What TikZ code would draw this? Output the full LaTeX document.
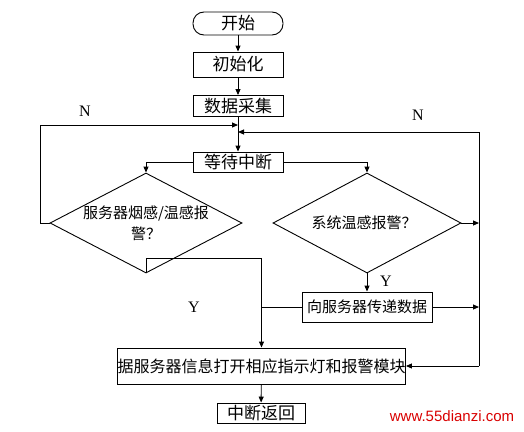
\documentclass[tikz,border=0pt]{standalone}
\usepackage{fontspec}
\setmainfont{Liberation Serif}
\newfontfamily\cjk{Noto Sans CJK SC}
\newfontfamily\wmfont{Liberation Sans}
\usetikzlibrary{shapes.geometric,arrows.meta}
\begin{document}
\begin{tikzpicture}[x=1pt,y=-1pt,
  box/.style={draw,line width=0.9pt,inner sep=0pt,font=\cjk\fontsize{17}{20}\selectfont},
  dia/.style={draw,diamond,line width=0.9pt,inner sep=0pt},
  ln/.style={line width=0.9pt},
  arr/.style={line width=0.9pt,-{Triangle[length=6pt,width=5pt]}},
  lab/.style={font=\fontsize{16}{18}\selectfont}]
\useasboundingbox (0,0) rectangle (524,431);
\node[box,rounded corners=11pt,minimum width=90pt,minimum height=23pt] (start) at (238,23.5) {开始};
\node[box,minimum width=90pt,minimum height=25pt] (init) at (238,64.5) {初始化};
\node[box,minimum width=90pt,minimum height=21pt] (collect) at (238,106) {数据采集};
\node[box,minimum width=90pt,minimum height=20pt] (wait) at (238,162) {等待中断};
\node[dia,minimum width=192pt,minimum height=100pt] (d1) at (146,223) {};
\node[font=\cjk\fontsize{15}{21}\selectfont,align=center] (d1t) at (146,223) {服务器烟感/温感报\\警？};
\node[dia,minimum width=188pt,minimum height=100pt] (d2) at (367,223) {};
\node[font=\cjk\fontsize{15}{18}\selectfont] (d2t) at (364,223) {系统温感报警？};
\node[box,font=\cjk\fontsize{15}{18}\selectfont,minimum width=130pt,minimum height=30pt] (send) at (367,307) {向服务器传递数据};
\node[box,font=\cjk\fontsize{16}{18}\selectfont,minimum width=279pt,minimum height=36pt] (final) at (261.5,366) {据服务器信息打开相应指示灯和报警模块};
\node[box,minimum width=88pt,minimum height=20pt] (ret) at (261,413) {中断返回};
\coordinate (j1) at (238,125);
\coordinate (j2) at (238,132);
\coordinate (lx) at (40,223);
\coordinate (rt) at (479,132);
\coordinate (rm) at (479,223);
\coordinate (rs) at (479,307);
\coordinate (rb) at (479,366);
\coordinate (ym) at (262,307);
\draw[arr] (start) -- (init);
\draw[arr] (init) -- (collect);
\draw[arr] (collect) -- (wait);
\draw[arr] (d1.west) -- (lx) |- (j1);
\draw[arr] (rt) -- (j2);
\draw[ln] (rt) -- (rb);
\draw[arr] (d2.east) -- (rm);
\draw[arr] (send.east) -- (rs);
\draw[arr] (rb) -- (final.east);
\draw[arr] (wait.west) -| (d1.north);
\draw[arr] (wait.east) -| (d2.north);
\draw[arr] (d2.south) -- (send.north);
\draw[arr] (d1.south) |- ([yshift=15pt]d1.south -| final.north) -- (final.north);
\draw[ln] (send.west) -- (ym);
\draw[arr] (final) -- (ret);
\node[lab] (n1) at (85,111) {N};
\node[lab] (n2) at (418,115) {N};
\node[lab] (y1) at (386,281) {Y};
\node[lab] (y2) at (194,307) {Y};
\node[font=\wmfont\fontsize{15}{18}\selectfont,text=red!85!black] (wm) at (452,416) {www.55dianzi.com};
\end{tikzpicture}
\end{document}
